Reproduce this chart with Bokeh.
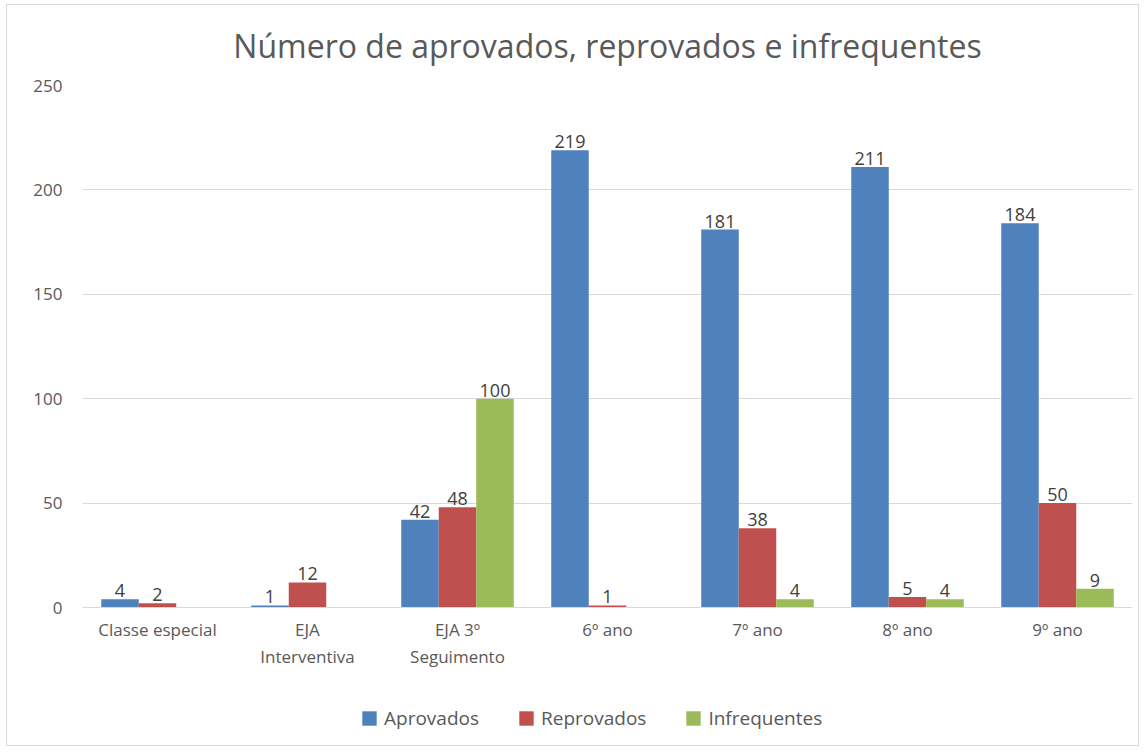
from bokeh.plotting import figure
from bokeh.models import ColumnDataSource, FactorRange, Range1d, Legend, LegendItem, LabelSet
from bokeh.transform import dodge
from bokeh.embed import file_html
from bokeh.resources import INLINE
from bokeh.core.properties import value

categories = ["Classe especial", "EJA\nInterventiva", "EJA 3º\nSeguimento", "6º ano", "7º ano", "8º ano", "9º ano"]
aprovados = [4, 1, 42, 219, 181, 211, 184]
reprovados = [2, 12, 48, 1, 38, 5, 50]
infrequentes = [None, None, 100, None, 4, 4, 9]
series_names = ["Aprovados", "Reprovados", "Infrequentes"]
colors = ["#4F81BD", "#C0504D", "#9BBB59"]
y_ticks = [0, 50, 100, 150, 200, 250]

FONT = "Open Sans"

# plot frame extended below zero so the legend can sit inside it
FRAME_H = 660
Y_TOP = 250
y_start = -Y_TOP * (FRAME_H - 522) / 522

p = figure(x_range=FactorRange(*categories, range_padding=0), y_range=Range1d(y_start, Y_TOP),
           frame_width=1050, frame_height=FRAME_H, output_backend="svg", toolbar_location=None,
           title="Número de aprovados, reprovados e infrequentes")
p.min_border_left = 75
p.min_border_right = 6
p.min_border_bottom = 0
p.min_border_top = 80
p.styles = {"border": "1px solid #d9d9d9", "margin-left": "6px", "margin-top": "4px"}

p.title.align = "center"
p.title.vertical_align = "top"
p.title.text_font = FONT
p.title.text_font_size = "32px"
p.title.text_font_style = "normal"
p.title.text_color = "#595959"
p.title.standoff = 33

all_series = [aprovados, reprovados, infrequentes]
offsets = [-0.25, 0.0, 0.25]
renderers = []
for name, vals, col, off in zip(series_names, all_series, colors, offsets):
    y = [float("nan") if v is None else v for v in vals]
    labels = ["" if v is None else str(v) for v in vals]
    src = ColumnDataSource(dict(x=categories, y=y, lab=labels, ly=[0 if v is None else v for v in vals]))
    r = p.vbar(x=dodge("x", off, range=p.x_range), top="y", bottom=0, width=0.25, source=src,
               fill_color=col, line_color=None)
    renderers.append(r)
    ls = LabelSet(x=dodge("x", off, range=p.x_range), y="ly", text="lab", source=src,
                  text_align="center", text_baseline="bottom", y_offset=2,
                  text_font_size="18px", text_color="#404040", text_font=value(FONT))
    p.add_layout(ls)

p.xgrid.grid_line_color = None
p.ygrid.grid_line_color = "#d9d9d9"
p.ygrid.grid_line_width = 1
p.yaxis.ticker = y_ticks
p.yaxis.axis_line_color = None
p.yaxis.major_tick_line_color = None
p.yaxis.minor_tick_line_color = None
p.yaxis.major_label_text_font = FONT
p.yaxis.major_label_text_font_size = "17px"
p.yaxis.major_label_text_color = "#595959"
p.yaxis.major_label_standoff = 14

p.xaxis.fixed_location = 0
p.xaxis.axis_line_color = "#d9d9d9"
p.xaxis.major_tick_line_color = None
p.xaxis.minor_tick_line_color = None
p.xaxis.major_tick_out = 0
p.xaxis.major_tick_in = 0
p.xaxis.major_label_text_font = FONT
p.xaxis.major_label_text_font_size = "17px"
p.xaxis.major_label_text_color = "#595959"
p.xaxis.major_label_standoff = 10
p.outline_line_color = None

legend = Legend(items=[LegendItem(label=n, renderers=[r]) for n, r in zip(series_names, renderers)],
                orientation="horizontal", location=(278, 14))
legend.label_text_font = FONT
legend.label_text_font_size = "19px"
legend.label_text_color = "#595959"
legend.label_height = 18
legend.glyph_width = 18
legend.glyph_height = 18
legend.spacing = 38
legend.label_standoff = 6
legend.padding = 0
legend.margin = 0
legend.border_line_color = None
legend.background_fill_alpha = 0
p.add_layout(legend, "center")

open("out.html", "w").write(file_html(p, INLINE))
